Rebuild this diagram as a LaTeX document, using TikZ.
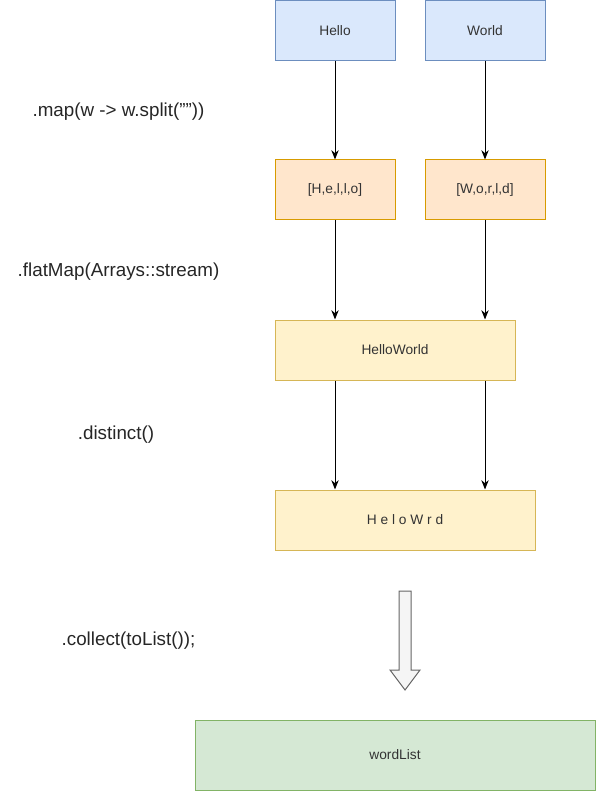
\documentclass[tikz,border=0pt]{standalone}
\usepackage{fontspec}
\setmainfont{Liberation Sans}
\usetikzlibrary{arrows.meta}

\definecolor{blueFill}{HTML}{DAE8FC}
\definecolor{blueLine}{HTML}{6C8EBF}
\definecolor{orangeFill}{HTML}{FFE6CC}
\definecolor{orangeLine}{HTML}{D79B00}
\definecolor{yellowFill}{HTML}{FFF2CC}
\definecolor{yellowLine}{HTML}{D6B656}
\definecolor{greenFill}{HTML}{D5E8D4}
\definecolor{greenLine}{HTML}{82B366}
\definecolor{textGray}{HTML}{333333}

\tikzset{
  box/.style={draw, line width=0.75pt, minimum height=45pt, inner sep=0pt,
    font=\fontsize{10.3}{12}\selectfont, text=textGray},
  wordbox/.style={box, fill=blueFill, draw=blueLine, minimum width=90pt},
  charbox/.style={box, fill=orangeFill, draw=orangeLine, minimum width=90pt},
  streambox/.style={box, fill=yellowFill, draw=yellowLine},
  listbox/.style={box, fill=greenFill, draw=greenLine, minimum height=52.5pt},
  oplabel/.style={font=\fontsize{14.1}{17}\selectfont, text=black!85},
  flow/.style={-{Stealth[length=7pt,width=5.5pt]}, line width=0.75pt}
}

\begin{document}
\begin{tikzpicture}[x=0.75pt, y=-0.75pt]
  \useasboundingbox (0,0) rectangle (596,791);

  % source words
  \node[wordbox] (hello) at (335,30.5) {Hello};
  \node[wordbox] (world) at (485,30.5) {World};

  % split into characters
  \node[charbox] (hchars) at (335,190) {[H,e,l,l,o]};
  \node[charbox] (wchars) at (485,190) {[W,o,r,l,d]};

  % flattened and distinct streams
  \node[streambox, minimum width=180pt] (flat) at (395,350) {HelloWorld};
  \node[streambox, minimum width=195pt] (uniq) at (405,520) {H e l o W r d};

  % result
  \node[listbox, minimum width=300pt] (wordlist) at (395,755) {wordList};

  % operation labels
  \node[oplabel] (lmap) at (118.5,111.5) {.map(w -> w.split(\symbol{34}\symbol{34}))};
  \node[oplabel] (lflat) at (118.5,271.5) {.flatMap(Arrays::stream)};
  \node[oplabel] (ldist) at (116,434.5) {.distinct()};
  \node[oplabel] (lcoll) at (128.5,640.5) {.collect(toList());};

  % arrows
  \draw[flow] (hello) -- (hchars);
  \draw[flow] (world) -- (wchars);
  \draw[flow] (hchars.south) -- (hchars.south |- flat.north);
  \draw[flow] (wchars.south) -- (wchars.south |- flat.north);
  \draw[flow] (hchars.south |- flat.south) -- (hchars.south |- uniq.north);
  \draw[flow] (wchars.south |- flat.south) -- (wchars.south |- uniq.north);

  % collect block arrow
  \draw[fill=black!4, draw=black!60, line width=0.75pt, line join=miter]
    (399,591) -- (411,591) -- (411,670) -- (420,670) -- (405,690)
    -- (390,670) -- (399,670) -- cycle;
\end{tikzpicture}
\end{document}
